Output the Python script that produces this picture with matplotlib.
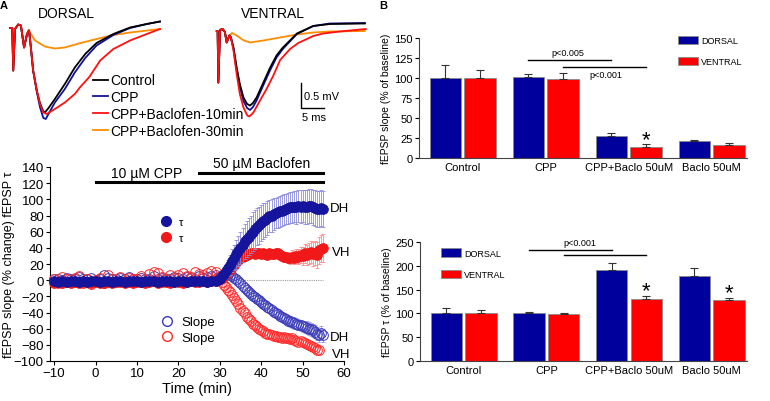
import numpy as np
import matplotlib
matplotlib.use("Agg")
import matplotlib.pyplot as plt
from matplotlib.lines import Line2D

plt.rcParams['font.family'] = ['Liberation Sans', 'DejaVu Sans']

W, H = 770, 402

# ---------------- panel A: example traces (ms, mV) ----------------
d_art_t = [0, 0.5, 0.7, 1.1, 1.8, 2.4, 3.1, 3.75, 4.2]
d_art_v = [0, 0, -0.85, -0.02, 0.07, 0.05, -0.39, -0.12, -0.05]
d_red_t = [4.6, 5.1, 5.9, 6.6, 7.35, 8.1, 9.9, 12.1, 14.3, 15.5, 17.5, 19.9, 22.8, 26.5, 30.2, 33.1]
d_red_v = [-0.39, -0.85, -1.25, -1.52, -1.69, -1.72, -1.62, -1.49, -1.32, -1.18, -0.98, -0.65, -0.42, -0.25, -0.12, -0.02]
d_blk_t = [4.6, 5.1, 5.9, 6.6, 7.3, 7.7, 8.5, 9.9, 12.1, 14.3, 16.6, 19.1, 22.8, 26.5, 30.2, 33.1]
d_blk_v = [-0.39, -0.85, -1.25, -1.5, -1.66, -1.69, -1.6, -1.42, -1.12, -0.79, -0.52, -0.3, -0.12, 0.01, 0.08, 0.13]
d_blu_t = [4.6, 5.1, 5.9, 6.6, 7.35, 7.9, 8.6, 9.9, 12.1, 14.3, 16.6, 19.1, 22.8, 26.5, 30.2, 33.1]
d_blu_v = [-0.39, -0.85, -1.27, -1.58, -1.8, -1.82, -1.7, -1.49, -1.22, -0.89, -0.6, -0.35, -0.14, 0.0, 0.08, 0.13]
d_org_t = [4.1, 4.8, 5.5, 7.7, 9.9, 12.1, 15.6, 19.1, 22.8, 26.5, 33.1]
d_org_v = [-0.04, -0.15, -0.25, -0.37, -0.41, -0.39, -0.3, -0.22, -0.14, -0.09, -0.02]

v_art_t = [0, 0.2, 0.35, 0.73, 1.3, 1.8, 2.2, 2.8, 3.1]
v_art_v = [0, 0, -1.03, 0.02, 0.04, -0.02, -0.23, -0.09, -0.12]
v_red_t = [3.7, 4.4, 5.1, 5.9, 6.75, 7.2, 8.1, 9.55, 11.0, 12.5, 14.0, 16.2, 18.0, 19.9, 21.3, 23.5, 27.2, 32.9]
v_red_v = [-0.39, -0.86, -1.26, -1.53, -1.69, -1.71, -1.63, -1.39, -1.16, -0.89, -0.58, -0.36, -0.24, -0.16, -0.1, -0.05, -0.01, 0.04]
v_blk_t = [3.7, 4.4, 5.1, 5.9, 6.7, 7.35, 8.0, 8.8, 10.3, 11.8, 13.2, 14.5, 15.5, 17.7, 21.3, 25.0, 32.7]
v_blk_v = [-0.33, -0.73, -1.06, -1.33, -1.46, -1.49, -1.44, -1.33, -1.03, -0.73, -0.49, -0.34, -0.25, -0.05, 0.1, 0.14, 0.15]
v_blu_t = [3.7, 4.4, 5.1, 5.9, 6.7, 7.35, 8.0, 8.8, 10.3, 11.8, 13.2, 14.5, 15.5, 17.7, 21.3, 25.0, 32.7]
v_blu_v = [-0.35, -0.78, -1.12, -1.4, -1.54, -1.58, -1.52, -1.39, -1.08, -0.78, -0.53, -0.37, -0.27, -0.06, 0.1, 0.15, 0.16]
v_org_t = [3.4, 4.4, 5.8, 7.3, 10.3, 14.0, 17.7, 21.3, 25.0, 32.7]
v_org_v = [-0.04, -0.09, -0.18, -0.23, -0.19, -0.13, -0.07, -0.03, -0.01, 0.0]

trace_labels = ['Control', 'CPP', 'CPP+Baclofen-10min', 'CPP+Baclofen-30min']
trace_colors = ['#000000', '#1010a0', '#ff1010', '#ff8c00']

# ---------------- panel A: time course ----------------
t_base = np.arange(-10, 30)
t_late = np.arange(29.5, 55.5, 0.5)

blue_tau_base = [-1, -2, -1, -2, -1, -1, -2, -1, -2, -1, -1, -2, -1, -1, -2, -1, -1, -2, -1, -1,
                 -1, -2, -1, -1, -1, -2, -1, -1, -1, -2, -1, -1, -2, -1, -1, -1, -1, -2, -1, -1]
red_tau_base = [-3, -2, -3, -2, -4, -2, -3, -2, -2, -3, -2, -3, -4, -2, -3, -2, -2, -3, -2, -3,
                -2, -2, -3, -2, -1, -3, -2, -2, -3, -2, -2, -3, -2, -1, -2, -2, -1, -2, -1, -1]
blue_slope_base = [1, 2, 0, 3, 1, 2, 4, 1, 2, 3, 0, 2, 6, 3, 2, 1, 3, 2, 4, 1,
                   2, 3, 1, 2, 5, 2, 3, 1, 2, 4, 3, 2, 4, 3, 2, 5, 3, 4, 5, 6]
red_slope_base = [2, -3, 4, 1, -2, 3, 5, -4, 2, -5, 0, 3, -3, 6, 2, -2, 4, -1, 3, 1,
                  2, 5, -2, 8, 10, 9, 4, 2, 6, 3, 7, 9, 5, 4, 10, 8, 6, 9, 11, 10]

blue_tau_late = [0, 2, 5, 8, 11, 15, 19, 24, 28, 32,
                 36, 40, 44, 48, 51, 54, 57, 60, 63, 66,
                 68, 71, 73, 75, 77, 79, 80, 82, 83, 84,
                 85, 86, 87, 88, 89, 90, 90, 91, 90, 92,
                 91, 92, 91, 91, 92, 92, 90, 89, 88, 88,
                 89, 88]
blue_tau_err = [1, 2, 4, 6, 8, 10, 12, 14, 16, 18,
                19, 20, 21, 22, 22, 23, 23, 24, 24, 23,
                23, 22, 22, 21, 21, 20, 20, 20, 19, 19,
                19, 19, 19, 19, 19, 19, 19, 19, 20, 20,
                20, 20, 21, 21, 21, 21, 22, 22, 22, 22,
                22, 22]
red_tau_late = [0, 1, 3, 6, 8, 11, 13, 16, 19, 22,
                25, 27, 29, 30, 31, 32, 33, 33, 32, 33,
                34, 32, 33, 32, 31, 33, 32, 32, 34, 33,
                31, 30, 29, 29, 28, 27, 29, 28, 30, 29,
                31, 30, 33, 31, 33, 35, 32, 34, 31, 37,
                39, 40]
red_tau_err = [1, 1, 2, 2, 3, 3, 3, 4, 4, 4,
               4, 5, 5, 5, 5, 5, 5, 5, 5, 5,
               5, 5, 5, 5, 5, 5, 5, 5, 5, 5,
               5, 6, 6, 6, 7, 7, 8, 8, 9, 9,
               10, 11, 12, 12, 13, 14, 15, 15, 16, 17,
               17, 17]
blue_slope_late = [3, 4, 5, 6, 7, 8, 7, 5, 3, 1,
                   -1, -4, -7, -10, -12, -15, -17, -19, -21, -23,
                   -25, -27, -29, -31, -33, -35, -37, -39, -40, -42,
                   -44, -45, -47, -48, -50, -51, -52, -53, -54, -55,
                   -56, -57, -58, -59, -60, -61, -62, -64, -66, -68,
                   -65, -68]
blue_slope_err = [1, 1, 1, 2, 2, 2, 3, 3, 3, 3,
                  4, 4, 4, 4, 4, 5, 5, 5, 5, 5,
                  5, 5, 5, 5, 6, 6, 6, 6, 6, 6,
                  6, 6, 6, 6, 7, 7, 7, 7, 7, 7,
                  7, 7, 7, 8, 8, 8, 8, 8, 8, 8,
                  8, 8]
red_slope_late = [4, 2, -2, -6, -9, -12, -15, -18, -22, -26,
                  -30, -34, -38, -41, -45, -48, -51, -54, -56, -58,
                  -60, -62, -63, -65, -66, -67, -68, -69, -69, -70,
                  -70, -71, -70, -72, -71, -73, -72, -74, -75, -76,
                  -75, -77, -78, -79, -80, -81, -83, -84, -86, -87,
                  np.nan, np.nan]
red_slope_err = [1, 1, 2, 2, 2, 3, 3, 3, 3, 4,
                 4, 4, 4, 4, 4, 4, 4, 4, 4, 4,
                 4, 4, 4, 4, 4, 4, 4, 4, 4, 4,
                 4, 4, 4, 4, 4, 4, 4, 4, 4, 4,
                 4, 4, 4, 4, 4, 4, 4, 4, 4, 4,
                 4, 4]

cpp_period = [0, 55]
baclofen_period = [25, 55]

# ---------------- panel B: bar charts ----------------
groups = ['Control', 'CPP', 'CPP+Baclo 50uM', 'Baclo 50uM']
slope_dorsal = [100, 101, 27, 21]
slope_dorsal_err = [16, 4, 4, 1.5]
slope_ventral = [100, 99, 14, 16]
slope_ventral_err = [10, 7, 3, 3]
tau_dorsal = [100, 101, 190, 179]
tau_dorsal_err = [11, 2, 16, 15]
tau_ventral = [100, 99, 130, 128]
tau_ventral_err = [7, 1.5, 6, 5]

NAVY = '#00009c'
RED = '#ff0000'


def px_axes(fig, l, t, r, b):
    return fig.add_axes([l / W, 1 - b / H, (r - l) / W, (b - t) / H])


fig = plt.figure(figsize=(W / 100, H / 100), dpi=100)

# traces
ms_px, mv_px = 4.53, 50.0
trace_sets = [
    (5.5, 14, d_art_t, d_art_v, [d_blk_t, d_blu_t, d_red_t, d_org_t], [d_blk_v, d_blu_v, d_red_v, d_org_v]),
    (212.2, 17, v_art_t, v_art_v, [v_blk_t, v_blu_t, v_red_t, v_org_t], [v_blk_v, v_blu_v, v_red_v, v_org_v]),
]
trace_axes = []
for left, top, at, av, tts, vvs in trace_sets:
    ax = px_axes(fig, left, top, left + 35 * ms_px, top + 2.4 * mv_px)
    ax.set_xlim(-1, 34)
    ax.set_ylim(-2.1, 0.3)
    ax.axis('off')
    order = [3, 1, 0, 2]
    for i in order:
        n_art = 8 if i == 3 else len(at)
        tt = np.concatenate([at[:n_art], tts[i]])
        vv = np.concatenate([av[:n_art], vvs[i]])
        ax.plot(tt, vv, color=trace_colors[i], lw=1.3, label=trace_labels[i], zorder=2 + (i == 2))
    trace_axes.append(ax)

axv = trace_axes[1]
axv.plot([18.6, 18.6, 23.6], [-1.03, -1.53, -1.53], color='black', lw=1.0, clip_on=False)
axv.text(19.3, -1.3, '0.5 mV', fontsize=8, va='center', ha='left')
axv.text(21.5, -1.72, '5 ms', fontsize=8, va='center', ha='center')

fig.text(66.7 / W, 1 - 13.5 / H, 'DORSAL', fontsize=10, ha='center', va='center')
fig.text(273.3 / W, 1 - 13.5 / H, 'VENTRAL', fontsize=10, ha='center', va='center')
fig.text(4 / W, 1 - 6 / H, 'A', fontsize=8, fontweight='bold', ha='center', va='center')
fig.text(383 / W, 1 - 6 / H, 'B', fontsize=8, fontweight='bold', ha='center', va='center')

h, l = trace_axes[0].get_legend_handles_labels()
hmap = dict(zip(l, h))
fig.legend([hmap[k] for k in trace_labels], trace_labels, loc='upper left',
           bbox_to_anchor=(93 / W, 1 - 74.5 / H), frameon=False, fontsize=10,
           handlelength=1.05, handletextpad=0.2, labelspacing=0.2,
           borderpad=0, borderaxespad=0)

# time course
ax = px_axes(fig, 50, 168, 344, 362)
t_all = np.concatenate([t_base, t_late])
series = [
    (np.concatenate([blue_slope_base, blue_slope_late]), blue_slope_err, '#3a3ab8', '#9a9ae0', False),
    (np.concatenate([red_slope_base, red_slope_late]), red_slope_err, '#ff2a2a', '#ff9a9a', False),
    (np.concatenate([red_tau_base, red_tau_late]), red_tau_err, '#f01818', '#ff8a8a', True),
    (np.concatenate([blue_tau_base, blue_tau_late]), blue_tau_err, '#14149c', '#8c8cdc', True),
]
for k, (vals, err, col, ecol, filled) in enumerate(series):
    ax.errorbar(t_late, vals[len(t_base):], yerr=err, fmt='none', ecolor=ecol,
                elinewidth=0.6, capsize=1.5, capthick=0.6, zorder=2 + k)
    if filled:
        ax.plot(t_all, vals, 'o', ms=7, mfc=col, mec=col, mew=0.6, zorder=3 + k, clip_on=False)
    else:
        ax.plot(t_all, vals, 'o', ms=7, mfc='none', mec=col, mew=0.7, zorder=3 + k, clip_on=False)

ax.plot([30, 55], [0, 0], color='#999999', lw=0.8, ls=(0, (1, 1)), zorder=1)
ax.plot(cpp_period, [121, 121], color='black', lw=2.2, clip_on=False)
ax.plot(baclofen_period, [133, 133], color='black', lw=2.2, clip_on=False)
ax.text(12.4, 133, '10 \u00b5M CPP', fontsize=10, ha='center', va='center')
ax.text(40.2, 145, '50 \u00b5M Baclofen', fontsize=10, ha='center', va='center', clip_on=False)
for x, y, s in [(56.7, 88.7, 'DH'), (57.1, 34.5, 'VH'), (56.7, -69.7, 'DH'), (57.1, -90.8, 'VH')]:
    ax.text(x, y, s, fontsize=9.5, ha='left', va='center', clip_on=False)

ax.set_xlim(-11, 60)
ax.set_ylim(-100, 140)
ax.set_xticks(range(-10, 61, 10))
ax.set_yticks(range(-100, 141, 20))
ax.tick_params(labelsize=9.5, length=3, width=0.8, direction='out', pad=1.5)
ax.spines['top'].set_visible(False)
ax.spines['right'].set_visible(False)
ax.set_xlabel('Time (min)', fontsize=10.5, labelpad=1)
ax.set_ylabel('fEPSP slope (% change) fEPSP \u03c4', fontsize=9, va='center')
ax.yaxis.set_label_coords((9 - 50) / 294, 0.5)

tau_handles = [Line2D([], [], ls='none', marker='o', ms=7, mfc='#14149c', mec='#14149c'),
               Line2D([], [], ls='none', marker='o', ms=7, mfc='#f01818', mec='#f01818')]
slope_handles = [Line2D([], [], ls='none', marker='o', ms=7, mfc='none', mec='#3a3ab8'),
                 Line2D([], [], ls='none', marker='o', ms=7, mfc='none', mec='#ff2a2a')]
fig.legend(tau_handles, ['\u03c4', '\u03c4'], loc='center left', bbox_to_anchor=(160.8 / W, 1 - 231 / H),
           frameon=False, fontsize=8, handlelength=1, handletextpad=0.6, labelspacing=0.55,
           borderpad=0, borderaxespad=0, numpoints=1)
fig.legend(slope_handles, ['Slope', 'Slope'], loc='center left', bbox_to_anchor=(160.8 / W, 1 - 331 / H),
           frameon=False, fontsize=9.5, handlelength=1, handletextpad=0.55, labelspacing=0.25,
           borderpad=0, borderaxespad=0, numpoints=1)

# bar panels
x = np.arange(len(groups))
off, bw = 0.21, 0.38
xd, xv = x - off, x + off


def bar_panel(ax, dv, de, vv, ve, ymax, ystep, ylabel):
    ax.bar(xd, dv, bw, color=NAVY, edgecolor='#8a8a8a', lw=0.6, label='DORSAL')
    ax.bar(xv, vv, bw, color=RED, edgecolor='#8a8a8a', lw=0.6, label='VENTRAL')
    ax.errorbar(xd, dv, yerr=[np.zeros(len(dv)), de], fmt='none', ecolor='#333333',
                elinewidth=0.8, capsize=3, capthick=0.8)
    ax.errorbar(xv, vv, yerr=[np.zeros(len(vv)), ve], fmt='none', ecolor='#333333',
                elinewidth=0.8, capsize=3, capthick=0.8)
    ax.set_xlim(-0.527, 3.425)
    ax.set_ylim(0, ymax)
    ax.set_yticks(np.arange(0, ymax + 1, ystep))
    ax.set_xticks(x)
    ax.set_xticklabels(groups, fontsize=8)
    ax.tick_params(axis='x', length=0, pad=3)
    ax.tick_params(axis='y', labelsize=8, length=3, width=0.8, pad=1.5)
    for s in ['top', 'right']:
        ax.spines[s].set_visible(False)
    ax.spines['left'].set_color('#444444')
    ax.spines['bottom'].set_color('#444444')
    ax.set_ylabel(ylabel, fontsize=7.5, labelpad=2)


ax1 = px_axes(fig, 419, 38.7, 747, 158.7)
bar_panel(ax1, slope_dorsal, slope_dorsal_err, slope_ventral, slope_ventral_err, 150, 25,
          'fEPSP slope (% of baseline)')
ax1.plot([xd[1], xd[2]], [122.5, 122.5], color='black', lw=1)
ax1.plot([xv[1], xv[2]], [114, 114], color='black', lw=1)
ax1.text(1.27, 131, 'p<0.005', fontsize=6.5, ha='center', va='center')
ax1.text(1.73, 104, 'p<0.001', fontsize=6.5, ha='center', va='center')
ax1.text(xv[2], 22, '*', fontsize=16, ha='center', va='center')
ax1.legend(loc='upper left', bbox_to_anchor=(678 / W, 1 - 37 / H), bbox_transform=fig.transFigure,
           frameon=False, fontsize=6.5, handlelength=2.2, handleheight=1.0, handletextpad=0.35,
           labelspacing=1.3, borderpad=0, borderaxespad=0)

ax2 = px_axes(fig, 420, 242.7, 747, 362.3)
bar_panel(ax2, tau_dorsal, tau_dorsal_err, tau_ventral, tau_ventral_err, 250, 50,
          'fEPSP \u03c4 (% of baseline)')
ax2.plot([xd[1], xd[2]], [233, 233], color='black', lw=1)
ax2.plot([xv[1], xv[2]], [223, 223], color='black', lw=1)
ax2.text(1.41, 249, 'p<0.001', fontsize=6.5, ha='center', va='center', clip_on=False)
ax2.text(xv[2], 148, '*', fontsize=16, ha='center', va='center')
ax2.text(xv[3], 144, '*', fontsize=16, ha='center', va='center')
ax2.legend(loc='upper left', bbox_to_anchor=(441 / W, 1 - 249.5 / H), bbox_transform=fig.transFigure,
           frameon=False, fontsize=6.5, handlelength=2.2, handleheight=1.0, handletextpad=0.35,
           labelspacing=1.4, borderpad=0, borderaxespad=0)

fig.savefig('out.png', dpi=100)
